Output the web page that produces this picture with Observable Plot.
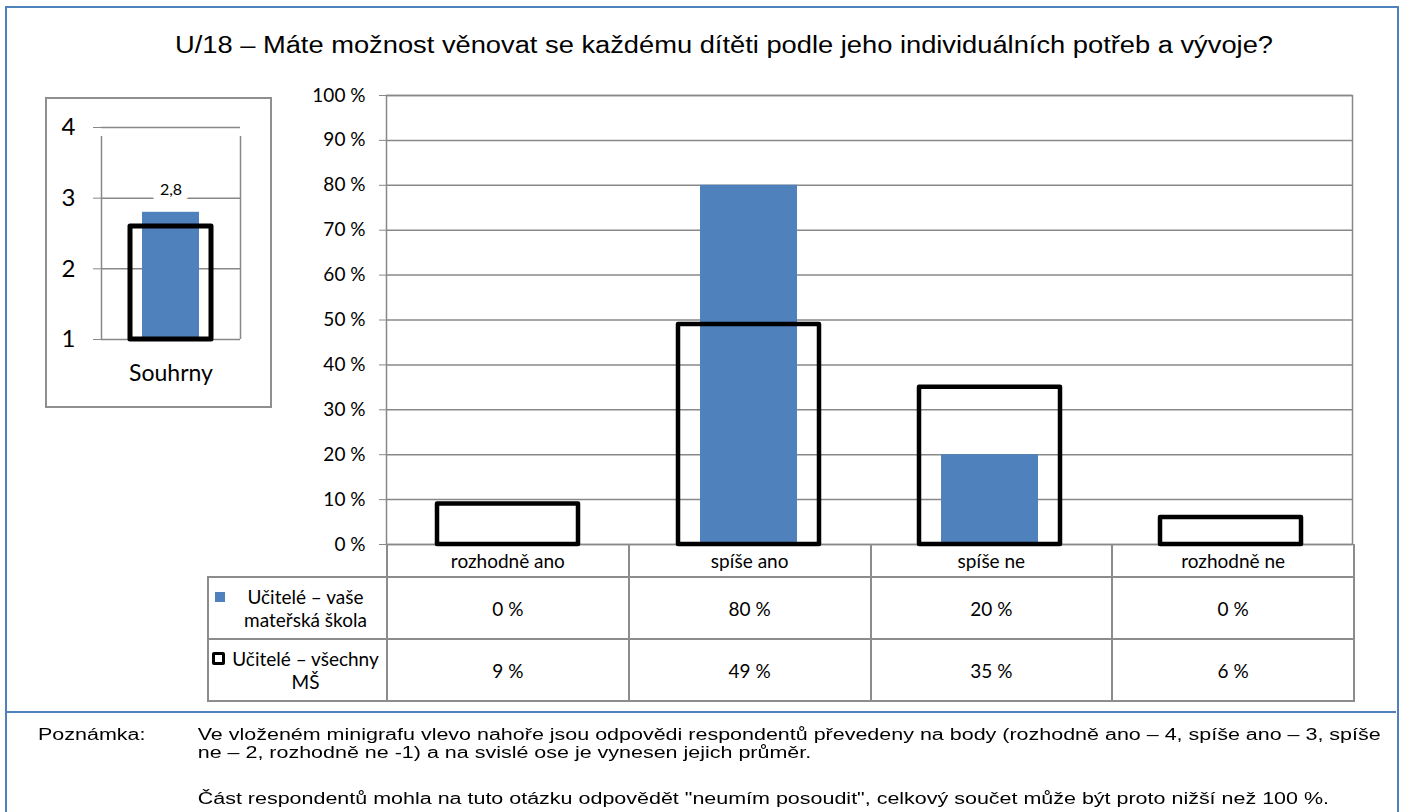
<!DOCTYPE html>
<html><head><meta charset="utf-8">
<script src="https://cdn.jsdelivr.net/npm/d3@7"></script>
<script src="https://cdn.jsdelivr.net/npm/@observablehq/plot@0.6"></script>
<style>
body{margin:0;background:#fff;}
#root{position:relative;width:1404px;height:812px;overflow:hidden;background:#fff;font-family:Lato,"Open Sans",sans-serif;color:#000;}
#frame{position:absolute;left:5px;top:6px;width:1390px;height:830px;border:2px solid #4f81bd;}
#sep{position:absolute;left:6px;top:711px;width:1390px;height:2px;background:#4f81bd;}
#title{position:absolute;top:32px;left:175px;font-family:"Liberation Sans",Arial,sans-serif;font-size:23px;white-space:nowrap;transform-origin:0 0;}
#main{position:absolute;left:280px;top:80px;}
#minibox{position:absolute;left:45px;top:97px;width:223px;height:307px;border:2px solid #8f8f8f;background:#fff;}
#mini{position:absolute;left:45px;top:97px;}
#tbl{position:absolute;left:207px;top:544px;border-collapse:collapse;table-layout:fixed;width:1146px;font-size:19px;}
#tbl td{border:2px solid #8c8c8c;text-align:center;padding:0;}
#tbl tr.hdr td{border-top:none;height:32px;}
#tbl tr.r1 td{height:60px;}
#tbl tr.r2 td{height:60px;}
.leg{display:flex;align-items:flex-start;}
.leg .txt{flex:1;text-align:center;line-height:23px;white-space:nowrap;}
.mk1{display:inline-block;width:10px;height:10px;background:#4f81bd;margin-left:6px;margin-top:7px;flex:none;}
.mk2{display:inline-block;width:7px;height:7px;border:3px solid #000;border-radius:2px;margin-left:3px;margin-top:5px;flex:none;}
#note{position:absolute;top:726px;left:38px;font-family:"Liberation Sans",Arial,sans-serif;font-size:16px;line-height:18px;white-space:nowrap;transform-origin:0 0;}
#noteLabel{position:absolute;left:0;top:0;}
#noteText{position:absolute;left:119px;top:0;}
#noteText p{margin:0 0 28px 0;}
</style></head>
<body><div id="root">
<div id="frame"></div>
<div id="sep"></div>
<div id="title"></div>
<div id="main"></div>
<div id="minibox"></div>
<div id="mini"></div>
<table id="tbl"></table>
<div id="note"><div id="noteLabel"></div><div id="noteText"></div></div>
</div>
<script>
const titleText = "U/18 – Máte možnost věnovat se každému dítěti podle jeho individuálních potřeb a vývoje?";
const categories = ["rozhodně ano", "spíše ano", "spíše ne", "rozhodně ne"];
const seriesNames = [["Učitelé – vaše", "mateřská škola"], ["Učitelé – všechny", "MŠ"]];
const schoolValues = [0, 80, 20, 0];
const allValues = [9, 49, 35, 6];
const yTicks = [0, 10, 20, 30, 40, 50, 60, 70, 80, 90, 100];
const summaryLabel = "Souhrny";
const summarySchool = 2.8;
const summaryAll = 2.6;
const summaryTicks = [1, 2, 3, 4];
const noteLabel = "Poznámka:";
const noteParagraphs = [
  ["Ve vloženém minigrafu vlevo nahoře jsou odpovědi respondentů převedeny na body (rozhodně ano – 4, spíše ano – 3, spíše",
   "ne – 2, rozhodně ne -1) a na svislé ose je vynesen jejich průměr."],
  ["Část respondentů mohla na tuto otázku odpovědět \"neumím posoudit\", celkový součet může být proto nižší než 100 %."]
];

const BLUE = "#4f81bd", GRID = "#888888";
const pct = d => `${d} %`;

const titleEl = document.getElementById("title");
titleEl.textContent = titleText;

const schoolData = categories.map((c, i) => ({cat: c, v: schoolValues[i]}));
const allData = categories.map((c, i) => ({cat: c, v: allValues[i]}));

const main = Plot.plot({
  width: 1090, height: 510,
  marginLeft: 106, marginRight: 18, marginTop: 15, marginBottom: 46,
  style: {background: "transparent", fontFamily: "Lato, 'Open Sans', sans-serif", color: "#000"},
  x: {domain: categories, padding: 0, axis: null},
  y: {domain: [0, 100], axis: null},
  marks: [
    Plot.gridY(yTicks, {stroke: GRID, strokeOpacity: 1, strokeWidth: 1.5}),
    Plot.frame({stroke: GRID, strokeWidth: 1.5}),
    Plot.axisY(yTicks, {tickSize: 7, tickPadding: 14, tickFormat: pct, label: null, stroke: GRID, fill: "#000", fontSize: 19}),
    Plot.barY(schoolData, {x: "cat", y: "v", fill: BLUE, insetLeft: 72, insetRight: 72}),
    Plot.barY(allData, {x: "cat", y: "v", fill: "none", stroke: "#000", strokeWidth: 4.5, strokeLinejoin: "round", insetLeft: 50, insetRight: 50})
  ]
});
document.getElementById("main").appendChild(main);

const miniW = 225, miniH = 309, mL = 56, mR = 30;
const bw = miniW - mL - mR;
const mini = Plot.plot({
  width: miniW, height: miniH,
  marginLeft: mL, marginRight: mR, marginTop: 30, marginBottom: 67,
  style: {background: "transparent", fontFamily: "Lato, 'Open Sans', sans-serif", color: "#000"},
  x: {domain: [summaryLabel], padding: 0, axis: null},
  y: {domain: [1, 4], axis: null},
  marks: [
    Plot.gridY(summaryTicks, {stroke: GRID, strokeOpacity: 1, strokeWidth: 1.5}),
    Plot.ruleX([summaryLabel], {x: d => d, y1: 1, y2: 4, dx: -bw / 2, insetBottom: -9, stroke: GRID, strokeWidth: 1.5}),
    Plot.ruleX([summaryLabel], {x: d => d, y1: 1, y2: 4, dx: bw / 2, insetBottom: -9, stroke: GRID, strokeWidth: 1.5}),
    Plot.axisY(summaryTicks, {tickSize: 8, tickPadding: 18, tickFormat: d => String(d), label: null, stroke: GRID, fill: "#000", fontSize: 24}),
    Plot.axisX([summaryLabel], {tickSize: 0, tickPadding: 25, label: null, fill: "#000", fontSize: 23}),
    Plot.barY([summarySchool], {x: () => summaryLabel, y1: 1, y2: d => d, fill: BLUE, insetLeft: 41, insetRight: 41}),
    Plot.barY([summaryAll], {x: () => summaryLabel, y1: 1, y2: d => d, fill: "none", stroke: "#000", strokeWidth: 5, strokeLinejoin: "round", insetLeft: 29, insetRight: 29}),
    Plot.text([summarySchool], {x: () => summaryLabel, y: d => d, text: d => String(d).replace(".", ","), dy: -22, fontSize: 16, fill: "#000", stroke: "#fff", strokeWidth: 16, paintOrder: "stroke"})
  ]
});
document.getElementById("mini").appendChild(mini);

// data table
const tbl = document.getElementById("tbl");
let html = `<colgroup><col style="width:179px">${categories.map(() => `<col style="width:241.75px">`).join("")}</colgroup>`;
html += `<tr class="hdr"><td style="border-left:none;border-top:none;border-bottom:2px solid #8c8c8c"></td>${categories.map(c => `<td>${c}</td>`).join("")}</tr>`;
const rows = [schoolValues, allValues];
rows.forEach((vals, r) => {
  const mk = r === 0 ? '<span class="mk1"></span>' : '<span class="mk2"></span>';
  html += `<tr class="r${r + 1}"><td><div class="leg">${mk}<div class="txt">${seriesNames[r].join("<br>")}</div></div></td>${vals.map(v => `<td>${pct(v)}</td>`).join("")}</tr>`;
});
tbl.innerHTML = html;

document.getElementById("noteLabel").textContent = noteLabel;
document.getElementById("noteText").innerHTML = noteParagraphs.map(p => `<p>${p.join("<br>")}</p>`).join("");

// stretch title and note horizontally to the reference's proportions
const tw = titleEl.getBoundingClientRect().width;
titleEl.style.transform = `scaleX(${1098 / tw})`;
const noteEl = document.getElementById("note");
const firstLineW = (() => {
  const s = document.createElement("span");
  s.style.whiteSpace = "nowrap";
  s.textContent = noteParagraphs[0][0];
  noteEl.appendChild(s);
  s.style.position = "absolute"; s.style.visibility = "hidden";
  const w = s.getBoundingClientRect().width;
  s.remove();
  return w;
})();
noteEl.style.transform = `scaleX(${(1381 - 198) / firstLineW})`;
</script>
</body></html>
